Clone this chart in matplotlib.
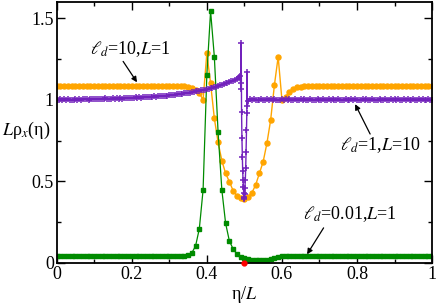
import numpy as np
import matplotlib
matplotlib.use("Agg")
import matplotlib.pyplot as plt
from matplotlib.ticker import MultipleLocator

plt.rcParams['font.family'] = ['Liberation Serif', 'DejaVu Serif']
plt.rcParams['mathtext.fontset'] = 'stix'

# ---- data ----
grid_x = np.linspace(0, 1, 101)

green_y = [
    0.040, 0.040, 0.040, 0.040, 0.040, 0.040, 0.040, 0.040, 0.040, 0.040,
    0.040, 0.040, 0.040, 0.040, 0.040, 0.040, 0.040, 0.040, 0.040, 0.040,
    0.040, 0.040, 0.040, 0.040, 0.040, 0.040, 0.040, 0.040, 0.040, 0.040,
    0.040, 0.040, 0.040,
    0.041, 0.044, 0.048, 0.062, 0.104, 0.210, 0.447, 1.153, 1.543, 1.263,
    0.800, 0.447, 0.243, 0.135, 0.086, 0.055, 0.039, 0.030, 0.025, 0.021,
    0.018, 0.016, 0.016, 0.018, 0.022, 0.030, 0.038, 0.040,
    0.041, 0.040, 0.040, 0.040, 0.040, 0.040, 0.040, 0.040, 0.040, 0.040,
    0.040, 0.040, 0.040, 0.040, 0.040, 0.040, 0.040, 0.040, 0.040, 0.040,
    0.040, 0.040, 0.040, 0.040, 0.040, 0.040, 0.040, 0.040, 0.040, 0.040,
    0.040, 0.040, 0.040, 0.040, 0.040, 0.040, 0.040, 0.040, 0.040, 0.040,
]

orange_y = [
    1.085, 1.084, 1.085, 1.086, 1.085, 1.085, 1.084, 1.085, 1.086, 1.085,
    1.085, 1.085, 1.086, 1.085, 1.085, 1.084, 1.085, 1.086, 1.085, 1.085,
    1.086, 1.085, 1.085, 1.086, 1.085, 1.085, 1.086, 1.086, 1.085, 1.086,
    1.085, 1.086, 1.085,
    1.085, 1.084, 1.080, 1.070, 1.057, 1.040, 1.000, 1.284, 1.100, 0.886,
    0.739, 0.627, 0.549, 0.498, 0.443, 0.412, 0.400, 0.393, 0.405, 0.430,
    0.478, 0.549, 0.620, 0.733, 0.876, 1.090, 1.263, 1.000, 1.018, 1.049,
    1.063, 1.076, 1.081,
    1.084, 1.085, 1.085, 1.085, 1.086, 1.085, 1.085, 1.085, 1.084, 1.085,
    1.086, 1.085, 1.085, 1.085, 1.086, 1.085, 1.085, 1.084, 1.085, 1.085,
    1.086, 1.085, 1.085, 1.085, 1.085, 1.086, 1.085, 1.085, 1.085, 1.086,
    1.085, 1.085, 1.085, 1.086, 1.086,
]

purple_left_x = np.linspace(0, 0.485, 98)
purple_left_y = [
    1.000, 0.996, 1.003, 0.999, 1.002, 0.998, 1.004, 1.000, 1.001, 0.997,
    1.003, 1.001, 1.004, 0.999, 1.005, 1.002, 1.004, 1.001, 1.006, 1.003,
    1.005, 1.002, 1.007, 1.004, 1.006, 1.003, 1.008, 1.005, 1.007, 1.004,
    1.008, 1.006, 1.010, 1.007, 1.009, 1.006, 1.011, 1.009, 1.012, 1.010,
    1.013, 1.011, 1.014, 1.012, 1.016, 1.013, 1.017, 1.015, 1.018, 1.016,
    1.019, 1.018, 1.021, 1.019, 1.022, 1.021, 1.024, 1.023, 1.026, 1.025,
    1.028, 1.027, 1.030, 1.030, 1.033, 1.033, 1.036, 1.036, 1.040, 1.039,
    1.043, 1.043, 1.047, 1.047, 1.051, 1.051, 1.055, 1.057, 1.060, 1.062,
    1.066, 1.068, 1.072, 1.074, 1.078, 1.081, 1.085, 1.088, 1.092, 1.095,
    1.100, 1.103, 1.108, 1.112, 1.117, 1.121, 1.127, 1.134,
]

purple_mid_x = [
    0.487, 0.489, 0.490, 0.4905, 0.4915, 0.4925, 0.4935, 0.4945, 0.4955,
    0.4965, 0.4975, 0.498, 0.4985, 0.499, 0.500, 0.5005, 0.5015, 0.5025,
    0.5035, 0.5045, 0.5055, 0.5065, 0.5075, 0.508,
]
purple_mid_y = [
    1.142, 1.146, 1.100, 1.065, 1.345, 0.927, 0.764, 0.651, 0.563,
    0.508, 0.464, 0.427, 0.405, 0.392, 0.398, 0.420, 0.457, 0.508,
    0.580, 0.680, 0.814, 0.917, 1.171, 0.960,
]

purple_right_x = np.linspace(0.51, 1.0, 99)
purple_right_y = [
    0.995, 1.002, 0.998, 1.004, 0.999, 1.001, 0.996, 1.003, 1.000, 0.998,
    1.004, 0.999, 1.002, 0.997, 1.003, 1.000, 1.001, 0.996, 1.004, 0.999,
    1.002, 0.998, 1.003, 1.000, 0.997, 1.004, 1.001, 0.999, 1.003, 0.998,
    1.002, 1.000, 0.997, 1.004, 0.999, 1.001, 0.998, 1.003, 1.000, 0.997,
    1.004, 1.000, 0.998, 1.002, 0.999, 1.003, 0.997, 1.001, 1.004, 0.999,
    1.000, 0.998, 1.003, 1.001, 0.997, 1.002, 1.000, 1.004, 0.998, 1.001,
    0.999, 1.003, 0.997, 1.002, 1.000, 0.998, 1.004, 0.999, 1.001, 0.997,
    1.003, 1.000, 0.998, 1.002, 1.001, 0.997, 1.004, 0.999, 1.002, 0.998,
    1.003, 1.000, 0.997, 1.002, 0.999, 1.004, 1.001, 0.998, 1.003, 1.000,
    0.997, 1.002, 0.999, 1.004, 1.000, 0.998, 1.003, 1.001, 0.999,
]

purple_x = np.concatenate([purple_left_x, purple_mid_x, purple_right_x])
purple_y = np.concatenate([purple_left_y, purple_mid_y, purple_right_y])

red_x = [0.5]
red_y = [0.0]

labels = [r'$\ell_d$=10,$L$=1', r'$\ell_d$=1,$L$=10', r'$\ell_d$=0.01,$L$=1']

# ---- plot ----
fig = plt.figure(figsize=(4.36, 3.04), dpi=100)
ax = fig.add_axes([0.130, 0.135, 0.861, 0.859])

c_orange = '#FFA500'
c_green = '#008B00'
c_purple = '#7221BC'

ax.plot(grid_x, orange_y, '-', color=c_orange, lw=1.0, marker='o', ms=3.6,
        mec=c_orange, mfc=c_orange)
ax.plot(grid_x, green_y, '-', color=c_green, lw=0.9, marker='s', ms=2.6,
        mec=c_green, mfc=c_green)
ax.plot(purple_x, purple_y, '-', color=c_purple, lw=1.0, marker='+', ms=4.5,
        mew=1.1, mec=c_purple)
ax.plot(red_x, red_y, 'o', color='red', ms=3.5, clip_on=False, zorder=5)

ax.set_xlim(0, 1)
ax.set_ylim(0, 1.6)
ax.xaxis.set_major_locator(MultipleLocator(0.2))
ax.xaxis.set_minor_locator(MultipleLocator(0.1))
ax.yaxis.set_major_locator(MultipleLocator(0.5))
ax.yaxis.set_minor_locator(MultipleLocator(0.25))
ax.set_xticks([0, 0.2, 0.4, 0.6, 0.8, 1.0])
ax.set_xticklabels(['0', '0.2', '0.4', '0.6', '0.8', '1'])
ax.set_yticks([0, 0.5, 1.0, 1.5])
ax.set_yticklabels(['0', '0.5', '1', '1.5'])
ax.tick_params(which='both', direction='in', top=True, right=True,
               labelsize=13, width=1.0, pad=2)
ax.tick_params(which='major', length=6)
ax.tick_params(which='minor', length=3)
for s in ax.spines.values():
    s.set_linewidth(1.3)

fig.text(0.005, 0.57, r'$L$ρ$_x$(η)', fontsize=13, ha='left', va='center')
ax.set_xlabel(r'η/$L$', fontsize=13, labelpad=1)

arrow = dict(arrowstyle='-|>', color='black', lw=0.9, mutation_scale=8,
             shrinkA=0, shrinkB=0)
ax.text(0.09, 1.31, labels[0], fontsize=13, ha='left', va='center')
ax.annotate('', xy=(0.214, 1.107), xytext=(0.177, 1.235), arrowprops=arrow)
ax.text(0.755, 0.72, labels[1], fontsize=13, ha='left', va='center')
ax.annotate('', xy=(0.795, 0.973), xytext=(0.835, 0.79), arrowprops=arrow)
ax.text(0.655, 0.30, labels[2], fontsize=13, ha='left', va='center')
ax.annotate('', xy=(0.667, 0.053), xytext=(0.711, 0.215), arrowprops=arrow)

fig.savefig('out.png', dpi=100)
